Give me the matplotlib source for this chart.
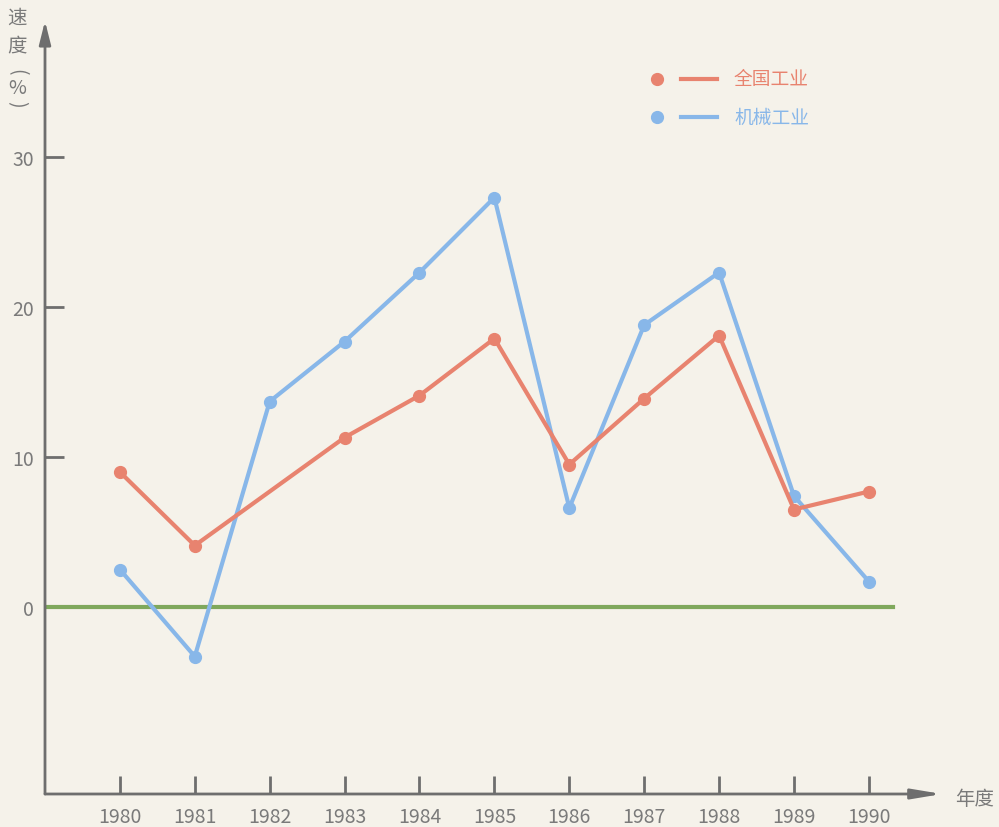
import matplotlib.pyplot as plt

plt.rcParams['font.family'] = ['Noto Sans CJK SC', 'DejaVu Sans']

# data (growth rate, %)
years = [1980, 1981, 1982, 1983, 1984, 1985, 1986, 1987, 1988, 1989, 1990]
nat_years = [1980, 1981, 1983, 1984, 1985, 1986, 1987, 1988, 1989, 1990]   # no 1982 point
national = [9.0, 4.1, 11.3, 14.1, 17.9, 9.5, 13.9, 18.1, 6.5, 7.7]
machinery = [2.5, -3.3, 13.7, 17.7, 22.3, 27.3, 6.6, 18.8, 22.3, 7.4, 1.7]
yticks = [0, 10, 20, 30]

red = '#e8836f'
blue = '#88b7e9'
green = '#7fa85c'
axis_c = '#6e6e6e'
text_c = '#7a7a7a'
bg = '#f5f2ea'

W, H = 999, 828
fig = plt.figure(figsize=(W / 100, H / 100), dpi=100, facecolor=bg)
# axes box in pixels: left 45, right 942, top 22, bottom 795
ax = fig.add_axes([45 / W, (H - 795) / H, (942 - 45) / W, (795 - 22) / H])
ax.set_facecolor(bg)
ax.set_xlim(1979.0, 1979.0 + (942 - 45) / 74.9)
ax.set_ylim(-(795 - 608) / 15.0, (608 - 22) / 15.0)
for s in ax.spines.values():
    s.set_visible(False)

# axes with arrows
ax.annotate('', xy=(0, 1), xytext=(0, 0), xycoords='axes fraction',
            arrowprops=dict(arrowstyle='-|>,head_length=1.4,head_width=0.35',
                            color=axis_c, lw=2, shrinkA=0, shrinkB=0))
ax.annotate('', xy=(1, 0), xytext=(0, 0), xycoords='axes fraction',
            arrowprops=dict(arrowstyle='-|>,head_length=1.8,head_width=0.3',
                            color=axis_c, lw=2, shrinkA=0, shrinkB=0))

# zero line
ax.plot([1979.0, 1979.0 + (893 - 45) / 74.9], [0, 0], color=green, lw=3, zorder=2)

ax.plot(years, machinery, color=blue, lw=3, marker='o', ms=8.5, zorder=3)
ax.plot(nat_years, national, color=red, lw=3, marker='o', ms=8.5, zorder=4)

ax.set_xticks(years)
ax.set_xticklabels([str(y) for y in years], fontweight='light')
ax.set_yticks(yticks)
ax.set_yticklabels([str(v) for v in yticks], fontweight='light')
ax.tick_params(axis='x', direction='in', length=13, width=2, color=axis_c,
               labelsize=14, labelcolor=text_c, pad=9)
ax.tick_params(axis='y', direction='in', length=14, width=2, color=axis_c,
               labelsize=14, labelcolor=text_c, pad=8)

# axis titles
kw = dict(fontsize=14, color=text_c, ha='center', va='center', fontweight='light')
fig.text(17 / W, 1 - 18 / H, '速', **kw)
fig.text(17 / W, 1 - 46 / H, '度', **kw)
fig.text(17 / W, 1 - 72 / H, '(', rotation=-90, **kw)
fig.text(17 / W, 1 - 88 / H, '%', **kw)
fig.text(17 / W, 1 - 104 / H, ')', rotation=-90, **kw)
fig.text(975 / W, 1 - 800 / H, '年度', **kw)

# legend
for yy, col, lab in [(80, red, '全国工业'), (118, blue, '机械工业')]:
    fy = 1 - yy / H
    fig.lines.append(plt.Line2D([657 / W], [fy], marker='o', ms=8.5, color=col,
                                transform=fig.transFigure))
    fig.lines.append(plt.Line2D([681 / W, 717 / W], [fy, fy], lw=3, color=col,
                                transform=fig.transFigure))
    fig.text(734 / W, fy, lab, fontsize=13.5, color=col, ha='left', va='center')

fig.savefig('out.png', dpi=100, facecolor=bg)
